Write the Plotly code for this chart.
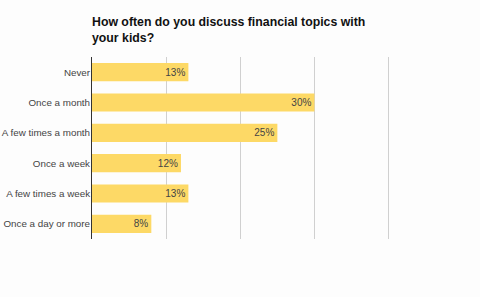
import plotly.graph_objects as go

categories = ["Never", "Once a month", "A few times a month", "Once a week",
              "A few times a week", "Once a day or more"]
values = [13, 30, 25, 12, 13, 8]
labels = ["13%", "30%", "25%", "12%", "13%", "8%"]
title_text = "How often do you discuss financial topics with<br>your kids?"

fig = go.Figure(go.Bar(
    x=values, y=categories, orientation="h",
    marker=dict(color="#FDD966", line=dict(width=0)),
    text=labels, textposition="inside", insidetextanchor="end",
    textfont=dict(family="Liberation Sans, Arial, sans-serif", size=10, color="#444444"),
    cliponaxis=False,
))

fig.update_layout(
    width=480, height=297,
    margin=dict(l=92, r=18, t=57, b=58, autoexpand=False),
    paper_bgcolor="#FDFDFD", plot_bgcolor="#FDFDFD",
    bargap=0.4,
    showlegend=False,
    font=dict(family="Liberation Sans, Arial, sans-serif", size=10, color="#444444"),
    xaxis=dict(range=[0, 49.9], dtick=10, showticklabels=False, showgrid=True,
               gridcolor="#D0D0D0", gridwidth=1, zeroline=False, showline=False,
               fixedrange=True, automargin=False),
    yaxis=dict(categoryorder="array", categoryarray=categories[::-1],
               showline=True, linecolor="#333333", linewidth=1,
               ticks="", ticklen=0, showgrid=False, automargin=False,
               ticklabelstandoff=-1,
               tickfont=dict(size=9.8, color="#444444"), fixedrange=True),
    annotations=[dict(
        text="<b>" + title_text + "</b>", xref="paper", yref="paper",
        x=0, y=1, xanchor="left", yanchor="bottom", yshift=10, xshift=-2,
        align="left", showarrow=False,
        font=dict(family="Liberation Sans, Arial, sans-serif", size=12.3, color="#111111"),
    )],
)

fig.write_html("out.html")
